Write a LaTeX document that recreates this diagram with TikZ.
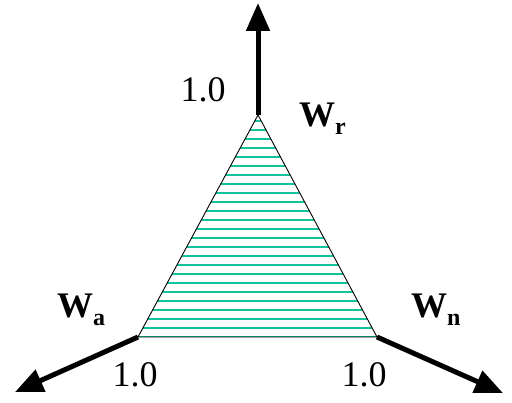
\documentclass[tikz,border=0pt]{standalone}
\usepackage{fontspec}
\setmainfont{Liberation Serif}
\usepackage{tikz}
\usetikzlibrary{arrows.meta}
\definecolor{hatchgreen}{RGB}{20,195,155}
\tikzset{
  axisarrow/.style={line width=5pt, -{Triangle[length=28pt,width=23pt]}},
  numlabel/.style={inner sep=0pt, font=\fontsize{36}{40}\selectfont},
  wlabel/.style={inner sep=0pt, anchor=base west, font=\fontsize{36}{40}\selectfont\bfseries}
}
\newcommand{\wsub}[1]{W\raisebox{-8pt}{\fontsize{24}{26}\selectfont #1}}

\begin{document}
\begin{tikzpicture}[x=1pt,y=-1pt]
      \useasboundingbox (0,0) rectangle (512,403);

      \coordinate (apex) at (258,115);
      \coordinate (left) at (138,337);
      \coordinate (right) at (377,337);
      \coordinate (topend) at (258,3);
      \coordinate (leftend) at (15,392);
      \coordinate (rightend) at (503,393);

      % hatched triangle
      \begin{scope}
        \clip (apex) -- (left) -- (right) -- cycle;
        \foreach \i in {0,...,24}
          \draw [hatchgreen, line width=2.4pt] (100,337-9*\i) -- (420,337-9*\i);
      \end{scope}
      \draw [line width=0.9pt] (apex) -- (left) -- (right) -- cycle;

      \draw [axisarrow] (apex) -- (topend);
      \draw [axisarrow] (left) -- (leftend);
      \draw [axisarrow] (right) -- (rightend);

      \node [numlabel] (onetop) at (203,90) {1.0};
      \node [numlabel] (oneleft) at (135,375) {1.0};
      \node [numlabel] (oneright) at (364,375) {1.0};

      \node [wlabel] (wr) at (299,127) {\wsub{r}};
      \node [wlabel] (wa) at (57,318) {\wsub{a}};
      \node [wlabel] (wn) at (411,318) {\wsub{n}};
    \end{tikzpicture}
\end{document}
